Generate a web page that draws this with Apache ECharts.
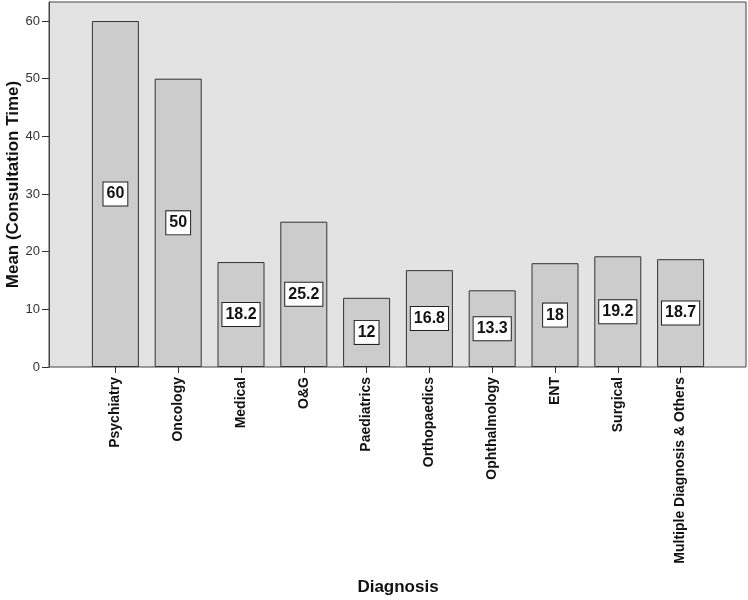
<!DOCTYPE html>
<html>
<head>
<meta charset="utf-8">
<script src="https://cdn.jsdelivr.net/npm/echarts@6/dist/echarts.min.js"></script>
<style>
  html, body { margin: 0; padding: 0; background: #fff; }
  #chart { width: 748px; height: 600px; }
</style>
</head>
<body>
<div id="chart"></div>
<script>
  // 诊断类别与平均就诊时间
  var categories = ['Psychiatry', 'Oncology', 'Medical', 'O&G', 'Paediatrics',
    'Orthopaedics', 'Ophthalmology', 'ENT', 'Surgical', 'Multiple Diagnosis & Others'];
  var meanTime = [60, 50, 18.2, 25.2, 12, 16.8, 13.3, 18, 19.2, 18.7];
  var yTicks = [0, 10, 20, 30, 40, 50, 60];

  var yMax = 63.3;
  var font = 'Liberation Sans, Arial, sans-serif';

  var myChart = echarts.init(document.getElementById('chart'));
  myChart.setOption({
    animation: false,
    grid: [
      // 外框 + 背景
      { left: 49, right: 2, top: 2, bottom: 233, show: true, outerBoundsMode: 'none',
        backgroundColor: '#e3e3e3', borderColor: '#444', borderWidth: 1 },
      // 柱子区域
      { left: 84, right: 36, top: 2, bottom: 233, outerBoundsMode: 'none' }
    ],
    xAxis: [
      { gridIndex: 0, type: 'value', show: false, min: 0, max: 1 },
      {
        gridIndex: 1,
        type: 'category',
        data: categories,
        name: 'Diagnosis',
        nameLocation: 'middle',
        nameGap: 212,
        nameMoveOverlap: false,
        nameTextStyle: { fontFamily: font, fontSize: 17, fontWeight: 'bold', color: '#111' },
        axisLine: { show: false },
        axisTick: { show: true, alignWithLabel: true, length: 6, lineStyle: { color: '#333' } },
        axisLabel: {
          interval: 0, rotate: 90, margin: 10,
          fontFamily: font, fontSize: 14, fontWeight: 'bold', color: '#111'
        }
      }
    ],
    yAxis: [
      {
        gridIndex: 0,
        type: 'value',
        min: 0, max: yMax,
        name: 'Mean (Consultation Time)',
        nameLocation: 'middle',
        nameGap: 27,
        nameMoveOverlap: false,
        nameTextStyle: { fontFamily: font, fontSize: 17, fontWeight: 'bold', color: '#111' },
        splitLine: { show: false },
        axisLine: { show: true, lineStyle: { color: '#444' } },
        axisTick: { show: true, length: 7, customValues: yTicks, lineStyle: { color: '#333' } },
        axisLabel: {
          margin: 9, fontFamily: font, fontSize: 13, color: '#333',
          customValues: yTicks
        }
      },
      { gridIndex: 1, type: 'value', min: 0, max: yMax, show: false }
    ],
    series: [{
      type: 'bar',
      xAxisIndex: 1,
      yAxisIndex: 1,
      barWidth: 47,
      data: meanTime,
      itemStyle: { color: '#cccccc', borderColor: '#333', borderWidth: 1 },
      label: {
        show: true,
        position: 'inside',
        fontFamily: font,
        fontSize: 16,
        fontWeight: 'bold',
        color: '#111',
        backgroundColor: '#fff',
        borderColor: '#222',
        borderWidth: 1,
        padding: [4, 3, 3, 3]
      }
    }]
  });
</script>
</body>
</html>
